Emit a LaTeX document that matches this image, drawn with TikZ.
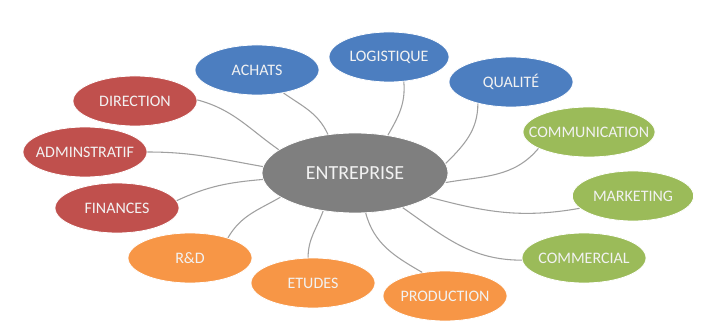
\documentclass[tikz,border=0pt]{standalone}
\usepackage{fontspec}
\setmainfont{Carlito}
\usetikzlibrary{shapes.geometric}
\definecolor{bleu}{RGB}{76,126,192}
\definecolor{rouge}{RGB}{192,80,77}
\definecolor{vert}{RGB}{155,187,89}
\definecolor{orange}{RGB}{247,150,70}
\definecolor{gris}{RGB}{127,127,127}
\definecolor{trait}{RGB}{160,160,160}
\tikzset{
  bulle/.style={ellipse,draw=white,line width=.6pt,inner ysep=0pt,inner xsep=-12pt,
                minimum width=93pt,minimum height=37.5pt,
                text=white!95!black,font=\fontsize{12}{14}\selectfont},
  centre/.style={bulle,fill=gris,minimum width=139.5pt,minimum height=60pt,
                 font=\fontsize{15}{17}\selectfont},
  lien/.style={draw=trait,line width=.8pt}
}
\begin{document}
\begin{tikzpicture}[x=.75pt,y=-.75pt]
                \useasboundingbox[fill=white] (0,0) rectangle (702,331);
                % les services
                \node[bulle,fill=bleu] (achats) at (257,70) {ACHATS};
                \node[bulle,fill=bleu,minimum width=90pt] (logistique) at (389,57) {LOGISTIQUE};
                \node[bulle,fill=bleu] (qualite) at (511,82) {QUALITÉ};
                \node[bulle,fill=vert,minimum width=99pt] (communication) at (589,132) {COMMUNICATION};
                \node[bulle,fill=vert,minimum width=91pt] (marketing) at (633,196) {MARKETING};
                \node[bulle,fill=vert] (commercial) at (584,258) {COMMERCIAL};
                \node[bulle,fill=orange] (production) at (445,296) {PRODUCTION};
                \node[bulle,fill=orange] (etudes) at (313,283) {ETUDES};
                \node[bulle,fill=orange] (rd) at (190,258) {R\&D};
                \node[bulle,fill=rouge] (finances) at (117,208) {FINANCES};
                \node[bulle,fill=rouge] (admin) at (85,152) {ADMINSTRATIF};
                \node[bulle,fill=rouge] (direction) at (135,101) {DIRECTION};
                \node[centre] (ent) at (355,173) {ENTREPRISE};

                % les liens
                \draw[lien] (ent.125) to[out=115,in=-35] (achats.-41);
                \draw[lien] (ent.163) to[out=145,in=-15] (direction.1);
                \draw[lien] (ent.176) to[out=170,in=0] (admin.0);
                \draw[lien] (ent.184) to[out=185,in=25] (finances.7);
                \draw[lien] (ent.198) to[out=210,in=60] (rd.28);
                \draw[lien] (ent.230) to[out=250,in=90] (etudes.101);
                \draw[lien] (ent.49) to[out=60,in=-85] (logistique.-59);
                \draw[lien] (ent.6) to[out=45,in=-90] (qualite.-147);
                \draw[lien] (ent.-6) to[out=10,in=-130] (communication.-162);
                \draw[lien] (ent.-18) to[out=-15,in=190] (marketing.-167);
                \draw[lien] (ent.-36) to[out=-35,in=180] (commercial.182);
                \draw[lien] (ent.-75) to[out=-75,in=150] (production.134);
            \end{tikzpicture}
\end{document}
